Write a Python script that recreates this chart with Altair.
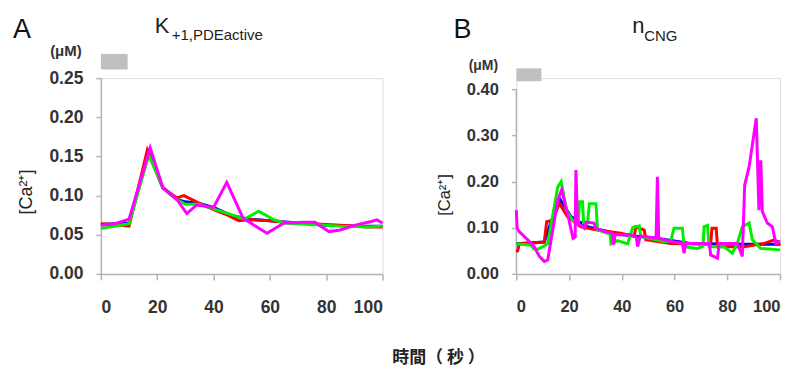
import altair as alt
import pandas as pd

# ---------------- Panel A : K+1,PDEactive ----------------
a_blue_t = [0, 5, 10, 17, 22, 27, 30, 35, 40, 46, 52, 60, 70, 80, 90, 100]
a_blue_v = [0.063, 0.064, 0.065, 0.155, 0.11, 0.095, 0.092, 0.09, 0.085, 0.075, 0.07, 0.068, 0.065, 0.062, 0.061, 0.061]

a_red_t = [0, 5, 10, 16.5, 22, 27, 29.5, 35, 40, 45, 49, 53, 60, 65, 75, 85, 95, 100]
a_red_v = [0.064, 0.063, 0.061, 0.158, 0.11, 0.097, 0.1, 0.09, 0.082, 0.075, 0.068, 0.069, 0.068, 0.066, 0.064, 0.062, 0.06, 0.06]

a_green_t = [0, 10, 17, 22, 27, 30, 35, 40, 46, 51, 56, 61, 65, 75, 85, 95, 100]
a_green_v = [0.058, 0.064, 0.152, 0.11, 0.095, 0.089, 0.089, 0.083, 0.076, 0.07, 0.08, 0.07, 0.065, 0.063, 0.061, 0.06, 0.061]

a_mag_t = [0, 5, 10, 17.5, 22, 27, 30.5, 34, 40, 44.7, 50.5, 54, 59, 65, 72, 76, 81, 85, 90, 96, 98, 100]
a_mag_v = [0.062, 0.064, 0.07, 0.161, 0.11, 0.095, 0.077, 0.088, 0.085, 0.117, 0.071, 0.063, 0.052, 0.065, 0.066, 0.066, 0.054, 0.056, 0.062, 0.067, 0.069, 0.065]

# ---------------- Panel B : nCNG ----------------
b_blue_t = [0, 10.6, 13, 16.7, 20.7, 27, 39.6, 53, 66, 85, 100]
b_blue_v = [0.065, 0.069, 0.11, 0.16, 0.124, 0.102, 0.085, 0.077, 0.066, 0.064, 0.064]

b_red_t = [0, 0.5, 1.1, 10.6, 11.5, 13.8, 16.3, 19.4, 24.5, 30.8, 39.6, 44.7, 45.3, 48.5, 49.1, 58.6, 73.7, 74.2, 75.8, 76.3, 86.4, 94, 97.7, 99, 100]
b_red_v = [0.048, 0.05, 0.065, 0.069, 0.113, 0.116, 0.153, 0.124, 0.102, 0.095, 0.088, 0.081, 0.102, 0.095, 0.074, 0.066, 0.064, 0.099, 0.099, 0.059, 0.059, 0.066, 0.073, 0.07, 0.062]

b_green_t = [0, 5.6, 6.5, 7.5, 10.5, 11.9, 15.7, 17, 19, 21.3, 23.5, 24, 25.1, 25.5, 27, 27.7, 30.2, 30.8, 34.6, 35.5, 35.9, 38.4, 42.2, 44.1, 46.6, 47.2, 56, 58.5, 59.8, 63, 63.6, 68.7, 70.8, 71.2, 72.5, 73.1, 78.8, 81.9, 83.8, 85.7, 88.3, 89.5, 92.7, 100]
b_green_v = [0.065, 0.062, 0.055, 0.052, 0.06, 0.066, 0.188, 0.2, 0.138, 0.116, 0.11, 0.156, 0.156, 0.11, 0.11, 0.152, 0.152, 0.095, 0.088, 0.088, 0.065, 0.072, 0.065, 0.1, 0.104, 0.081, 0.07, 0.07, 0.099, 0.099, 0.059, 0.055, 0.06, 0.102, 0.105, 0.059, 0.059, 0.045, 0.066, 0.102, 0.11, 0.074, 0.055, 0.052]

b_mag_t = [0, 0.3, 1, 3, 5, 6.8, 8.7, 10.6, 11.9, 15.7, 17.2, 19.4, 21.5, 22.3, 22.6, 23.2, 25.8, 26.5, 29.5, 30, 33.3, 36.3, 36.9, 37.5, 43.4, 45.5, 46, 47, 48.5, 53, 53.5, 54, 58.6, 63, 63.6, 64.3, 71.2, 73.2, 73.7, 76.3, 76.9, 83.8, 85.7, 86.6, 88.3, 91, 92, 92.7, 93.3, 95.2, 97.1, 98.4, 99.6, 100]
b_mag_v = [0.138, 0.099, 0.092, 0.081, 0.07, 0.059, 0.038, 0.027, 0.03, 0.16, 0.182, 0.131, 0.077, 0.08, 0.225, 0.11, 0.099, 0.112, 0.11, 0.099, 0.092, 0.088, 0.063, 0.085, 0.085, 0.08, 0.059, 0.082, 0.081, 0.077, 0.21, 0.077, 0.07, 0.066, 0.045, 0.066, 0.066, 0.066, 0.041, 0.034, 0.066, 0.066, 0.038, 0.192, 0.232, 0.337, 0.138, 0.246, 0.135, 0.11, 0.102, 0.066, 0.07, 0.068]

# stimulus bars (time span, y span in data units)
a_bar = {"t": [0], "t2": [9.5], "v": [0.261], "v2": [0.281]}
b_bar = {"t": [0], "t2": [9.5], "v": [0.417], "v2": [0.445]}

x_ticks = [0, 20, 40, 60, 80, 100]
a_y_ticks = [0, 0.05, 0.10, 0.15, 0.20, 0.25]
b_y_ticks = [0, 0.10, 0.20, 0.30, 0.40]

COLORS = {"blue": "#0000ff", "red": "#ff0000", "green": "#00ee00", "magenta": "#ff00ff"}
FONT = "Liberation Sans"
CJK = "Noto Sans CJK TC"
AXC = "#b4b4b4"
LBL = "#333333"

A_W, A_H = 282, 196
B_W, B_H = 264, 196
B_YMAX = 0.40 * 196 / 185


def axes(fs, ydom, yticks, show_ydomain=True):
    X = alt.X("t:Q", scale=alt.Scale(domain=[0, 100], nice=False),
              axis=alt.Axis(values=x_ticks, title=None, grid=False, domainColor=AXC, tickColor=AXC,
                            tickSize=6, labelPadding=19, labelFontSize=fs, labelFont=FONT,
                            labelFontWeight="bold", labelColor=LBL, domainWidth=1.5, tickWidth=1.5))
    Y = alt.Y("v:Q", scale=alt.Scale(domain=ydom, nice=False, zero=False),
              axis=alt.Axis(values=yticks, format=".2f", title=None, grid=False, domain=show_ydomain,
                            domainColor=AXC, tickColor=AXC, tickSize=5, labelPadding=13,
                            labelFontSize=fs, labelFont=FONT, labelFontWeight="bold", labelColor=LBL,
                            domainWidth=1.5, tickWidth=1.5))
    return X, Y


def line(t, v, color, X, Y):
    df = pd.DataFrame({"t": t, "v": v})
    return alt.Chart(df).mark_line(color=COLORS[color], strokeWidth=3, clip=False).encode(x=X, y=Y)


def label(text, x, y, size, font=FONT, align="left", baseline="alphabetic", angle=0, weight="normal", color="#111"):
    df = pd.DataFrame({"txt": [text]})
    return alt.Chart(df).mark_text(fontSize=size, font=font, align=align, baseline=baseline,
                                   angle=angle, fontWeight=weight, color=color).encode(
        x=alt.value(x), y=alt.value(y), text="txt:N")


def bar(d, X, Y):
    df = pd.DataFrame(d)
    return alt.Chart(df).mark_rect(color="#c0c0c0").encode(x=X, x2="t2:Q", y=Y, y2="v2:Q")


# ---- Panel A ----
XA, YA = axes(17.5, [0, 0.25], a_y_ticks)
anchor = alt.Chart(pd.DataFrame({"k": [0]})).mark_point(opacity=0, size=1, shape="square").encode(
    x=alt.value(-92), y=alt.value(-69))
panel_a = alt.layer(
    anchor,
    line(a_blue_t, a_blue_v, "blue", XA, YA),
    line(a_red_t, a_red_v, "red", XA, YA),
    line(a_green_t, a_green_v, "green", XA, YA),
    line(a_mag_t, a_mag_v, "magenta", XA, YA),
    bar(a_bar, XA, YA),
    label("A", -79, -40, 27, align="center"),
    label("K", 54, -45, 22, color="#222"),
    label("+1,PDEactive", 71, -38, 15, color="#222"),
    label("(μM)", -35, -27, 15, align="center", baseline="middle", weight="bold", color="#333"),
    label("[Ca²⁺]", -74, 114, 18, align="center", baseline="middle", angle=270, color="#222"),
    label("時間（ 秒 ）", 338, 280, 17, font=CJK, align="center", baseline="middle", weight="bold", color="#222"),
).properties(width=A_W, height=A_H)

# ---- Panel B ----
XB, YB = axes(16.5, [0, B_YMAX], b_y_ticks, show_ydomain=False)
b_domain = alt.Chart(pd.DataFrame({"t": [0], "v": [0], "v2": [0.40]})).mark_rule(
    color=AXC, strokeWidth=1.5).encode(x=XB, y=YB, y2="v2:Q")
panel_b = alt.layer(
    b_domain,
    line(b_blue_t, b_blue_v, "blue", XB, YB),
    line(b_red_t, b_red_v, "red", XB, YB),
    line(b_green_t, b_green_v, "green", XB, YB),
    line(b_mag_t, b_mag_v, "magenta", XB, YB),
    bar(b_bar, XB, YB),
    label("B", -54, -40, 27, align="center"),
    label("n", 116, -45, 22, color="#222"),
    label("CNG", 128, -37, 15, color="#222"),
    label("(μM)", -33, -12, 14, align="center", baseline="middle", weight="bold", color="#333"),
    label("[Ca²⁺]", -71, 117, 16.5, align="center", baseline="middle", angle=270, color="#222"),
).properties(width=B_W, height=B_H)

chart = alt.hconcat(panel_a, panel_b, spacing=134, bounds="flush").properties(
    padding=0
).configure_view(stroke=None).configure(background="white")

chart.save("out.html", embed_options={"renderer": "svg", "actions": False})
